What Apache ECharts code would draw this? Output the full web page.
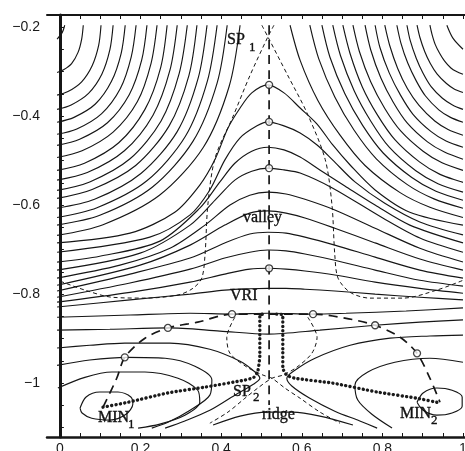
<!DOCTYPE html>
<html><head><meta charset="utf-8">
<script src="https://cdn.jsdelivr.net/npm/echarts@6/dist/echarts.min.js"></script>
<style>html,body{margin:0;padding:0;background:#fff}#c{width:465px;height:451px}</style>
</head><body><div id="c"></div>
<script>
// ---- tick labels / ticks ----
const xTickLabels = [0, 0.2, 0.4, 0.6, 0.8, 1];
const yTickLabels = [-1, -0.8, -0.6, -0.4, -0.2];
const xMinorTicks = [0,0.05,0.1,0.15,0.2,0.25,0.3,0.35,0.4,0.45,0.5,0.55,0.6,0.65,0.7,0.75,0.8,0.85,0.9,0.95,1];
const yMinorTicks = [-1.1,-1.05,-1,-0.95,-0.9,-0.85,-0.8,-0.75,-0.7,-0.65,-0.6,-0.55,-0.5,-0.45,-0.4,-0.35,-0.3,-0.25,-0.2];

// ---- contour lines, upper-left corner family ----
const leftArcs = [
 [[0.012,-0.196],[0.006,-0.212],[-0.007,-0.227]],
 [[0.058,-0.196],[0.054,-0.227],[0.045,-0.257],[0.029,-0.282],[0.009,-0.296],[-0.007,-0.302]],
 [[0.102,-0.196],[0.096,-0.242],[0.080,-0.287],[0.054,-0.323],[0.020,-0.345],[-0.007,-0.353]],
 [[0.132,-0.196],[0.124,-0.251],[0.104,-0.306],[0.071,-0.349],[0.028,-0.375],[-0.007,-0.385]],
 [[0.162,-0.196],[0.152,-0.259],[0.128,-0.322],[0.088,-0.373],[0.035,-0.403],[-0.007,-0.414]],
 [[0.189,-0.196],[0.177,-0.267],[0.150,-0.338],[0.103,-0.395],[0.042,-0.429],[-0.007,-0.441]],
 [[0.216,-0.196],[0.203,-0.274],[0.172,-0.352],[0.118,-0.415],[0.049,-0.452],[-0.007,-0.466]],
 [[0.241,-0.196],[0.226,-0.282],[0.192,-0.368],[0.132,-0.436],[0.055,-0.478],[-0.007,-0.493]],
 [[0.266,-0.196],[0.250,-0.291],[0.211,-0.385],[0.146,-0.460],[0.061,-0.506],[-0.007,-0.522]],
 [[0.291,-0.196],[0.273,-0.297],[0.231,-0.398],[0.160,-0.478],[0.068,-0.527],[-0.007,-0.544]],
 [[0.316,-0.196],[0.296,-0.304],[0.251,-0.411],[0.174,-0.496],[0.074,-0.548],[-0.007,-0.567]],
 [[0.340,-0.196],[0.320,-0.309],[0.271,-0.422],[0.188,-0.511],[0.080,-0.565],[-0.007,-0.585]],
 [[0.365,-0.196],[0.343,-0.315],[0.291,-0.435],[0.201,-0.529],[0.086,-0.587],[-0.007,-0.607]],
 [[0.390,-0.196],[0.366,-0.321],[0.311,-0.446],[0.215,-0.546],[0.092,-0.606],[-0.007,-0.628]],
 [[0.415,-0.196],[0.390,-0.326],[0.330,-0.457],[0.229,-0.560],[0.099,-0.623],[-0.007,-0.645]],
 [[0.447,-0.196],[0.420,-0.333],[0.356,-0.470],[0.247,-0.578],[0.107,-0.644],[-0.007,-0.668]]
];
// ---- contour lines, upper-right corner family ----
const rightArcs = [
 [[0.960,-0.196],[0.975,-0.225],[1.0,-0.250]],
 [[0.918,-0.196],[0.923,-0.216],[0.931,-0.239],[0.942,-0.259],[0.954,-0.276],[0.970,-0.292],[0.984,-0.300],[1.0,-0.306]],
 [[0.886,-0.196],[0.893,-0.223],[0.905,-0.255],[0.919,-0.282],[0.936,-0.306],[0.959,-0.327],[0.978,-0.339],[1.0,-0.347]],
 [[0.861,-0.196],[0.869,-0.230],[0.884,-0.270],[0.901,-0.304],[0.921,-0.334],[0.949,-0.360],[0.974,-0.375],[1.0,-0.385]],
 [[0.836,-0.196],[0.846,-0.236],[0.863,-0.281],[0.884,-0.321],[0.907,-0.355],[0.940,-0.386],[0.969,-0.403],[1.0,-0.414]],
 [[0.806,-0.196],[0.818,-0.241],[0.838,-0.293],[0.862,-0.338],[0.891,-0.376],[0.930,-0.411],[0.963,-0.430],[1.0,-0.443]],
 [[0.782,-0.196],[0.794,-0.246],[0.817,-0.303],[0.845,-0.353],[0.876,-0.396],[0.921,-0.435],[0.958,-0.456],[1.0,-0.470]],
 [[0.757,-0.196],[0.771,-0.251],[0.796,-0.314],[0.827,-0.369],[0.862,-0.416],[0.912,-0.458],[0.954,-0.481],[1.0,-0.497]],
 [[0.727,-0.196],[0.743,-0.255],[0.771,-0.323],[0.806,-0.383],[0.846,-0.434],[0.901,-0.479],[0.948,-0.505],[1.0,-0.522]],
 [[0.702,-0.196],[0.720,-0.260],[0.750,-0.334],[0.788,-0.398],[0.831,-0.453],[0.892,-0.503],[0.943,-0.531],[1.0,-0.549]],
 [[0.677,-0.196],[0.696,-0.264],[0.730,-0.343],[0.771,-0.411],[0.817,-0.470],[0.883,-0.523],[0.938,-0.552],[1.0,-0.571]],
 [[0.650,-0.196],[0.670,-0.268],[0.707,-0.350],[0.751,-0.421],[0.802,-0.483],[0.873,-0.538],[0.933,-0.569],[1.0,-0.589]],
 [[0.620,-0.196],[0.642,-0.271],[0.682,-0.357],[0.730,-0.432],[0.785,-0.496],[0.862,-0.554],[0.928,-0.586],[1.0,-0.607]],
 [[0.571,-0.196],[0.596,-0.275],[0.640,-0.365],[0.695,-0.443],[0.757,-0.511],[0.844,-0.572],[0.918,-0.605],[1.0,-0.628]]
];
// ---- contour lines crossing the valley ----
const valleyContours = [
 [[-0.007,-0.685],[0.174,-0.663],[0.285,-0.616],[0.347,-0.555],[0.385,-0.497],[0.417,-0.427],[0.447,-0.382],[0.476,-0.348],[0.516,-0.330],[0.556,-0.348],[0.596,-0.382],[0.638,-0.418],[0.677,-0.465],[0.720,-0.510],[0.782,-0.566],[0.868,-0.616],[1.0,-0.645]],
 [[-0.007,-0.706],[0.223,-0.672],[0.323,-0.622],[0.372,-0.566],[0.409,-0.499],[0.447,-0.449],[0.489,-0.422],[0.516,-0.413],[0.556,-0.422],[0.596,-0.438],[0.638,-0.465],[0.677,-0.499],[0.732,-0.548],[0.806,-0.596],[0.893,-0.638],[1.0,-0.667]],
 [[-0.007,-0.728],[0.099,-0.715],[0.248,-0.681],[0.347,-0.607],[0.397,-0.548],[0.434,-0.506],[0.476,-0.479],[0.516,-0.470],[0.556,-0.476],[0.596,-0.492],[0.645,-0.521],[0.707,-0.557],[0.782,-0.600],[0.868,-0.645],[1.0,-0.685]],
 [[-0.007,-0.746],[0.199,-0.708],[0.323,-0.645],[0.385,-0.589],[0.434,-0.544],[0.476,-0.524],[0.516,-0.517],[0.556,-0.521],[0.596,-0.528],[0.677,-0.562],[0.801,-0.629],[0.893,-0.674],[1.0,-0.706]],
 [[-0.007,-0.764],[0.149,-0.735],[0.273,-0.697],[0.360,-0.645],[0.422,-0.600],[0.471,-0.578],[0.516,-0.571],[0.561,-0.575],[0.608,-0.587],[0.682,-0.611],[0.782,-0.652],[0.893,-0.697],[1.0,-0.728]],
 [[-0.007,-0.780],[0.199,-0.735],[0.323,-0.690],[0.409,-0.645],[0.471,-0.618],[0.516,-0.613],[0.561,-0.618],[0.608,-0.629],[0.682,-0.652],[0.782,-0.685],[0.893,-0.721],[1.0,-0.746]],
 [[-0.007,-0.793],[0.174,-0.755],[0.323,-0.719],[0.409,-0.685],[0.471,-0.665],[0.516,-0.661],[0.561,-0.663],[0.608,-0.672],[0.682,-0.690],[0.782,-0.717],[0.893,-0.746],[1.0,-0.764]],
 [[-0.007,-0.807],[0.174,-0.775],[0.323,-0.744],[0.409,-0.719],[0.471,-0.706],[0.516,-0.701],[0.561,-0.703],[0.608,-0.710],[0.682,-0.724],[0.782,-0.746],[0.893,-0.769],[1.0,-0.782]],
 [[-0.007,-0.818],[0.174,-0.796],[0.323,-0.773],[0.409,-0.755],[0.471,-0.744],[0.516,-0.742],[0.561,-0.744],[0.608,-0.748],[0.682,-0.757],[0.782,-0.773],[0.893,-0.787],[1.0,-0.798]],
 [[-0.007,-0.829],[0.174,-0.813],[0.323,-0.800],[0.409,-0.791],[0.471,-0.788],[0.516,-0.787],[0.561,-0.787],[0.608,-0.789],[0.682,-0.793],[0.782,-0.800],[0.893,-0.807],[1.0,-0.813]]
];
// ---- contour lines around VRI, SP2 and the two minima ----
const lowerContours = [
 [[-0.007,-0.852],[0.174,-0.847],[0.323,-0.843],[0.427,-0.845],[0.516,-0.843],[0.628,-0.845],[0.710,-0.843],[0.859,-0.838],[1.0,-0.831]],
 [[-0.007,-0.881],[0.124,-0.879],[0.268,-0.876],[0.397,-0.883],[0.516,-0.890],[0.645,-0.881],[0.782,-0.870],[0.893,-0.863],[1.0,-0.858]],
 [[-0.007,-0.921],[0.074,-0.915],[0.161,-0.910],[0.273,-0.910],[0.372,-0.924],[0.447,-0.951],[0.484,-0.975],[0.496,-0.989],[0.481,-1.002],[0.434,-1.027],[0.372,-1.061],[0.310,-1.085],[0.261,-1.101]],
 [[-0.007,-0.960],[0.074,-0.948],[0.166,-0.942],[0.261,-0.944],[0.335,-0.962],[0.377,-0.993],[0.372,-1.027],[0.323,-1.061],[0.268,-1.088],[0.228,-1.101]],
 [[-0.005,-1.011],[0.062,-0.987],[0.129,-0.975],[0.211,-0.975],[0.293,-0.989],[0.342,-1.016],[0.347,-1.043],[0.310,-1.072],[0.248,-1.092],[0.194,-1.101]],
 [[0.050,-1.056],[0.065,-1.031],[0.099,-1.020],[0.144,-1.020],[0.176,-1.031],[0.181,-1.047],[0.164,-1.070],[0.124,-1.083],[0.079,-1.079],[0.055,-1.067],[0.050,-1.056]],
 [[1.0,-0.892],[0.918,-0.894],[0.819,-0.899],[0.720,-0.915],[0.633,-0.944],[0.583,-0.971],[0.563,-0.989],[0.576,-1.007],[0.620,-1.034],[0.682,-1.063],[0.744,-1.085],[0.787,-1.101]],
 [[1.0,-0.953],[0.918,-0.944],[0.831,-0.953],[0.764,-0.975],[0.732,-1.004],[0.739,-1.038],[0.774,-1.070],[0.824,-1.101]],
 [[0.886,-1.043],[0.901,-1.022],[0.935,-1.011],[0.973,-1.016],[0.998,-1.031],[0.998,-1.052],[0.973,-1.067],[0.935,-1.072],[0.901,-1.061],[0.886,-1.043]],
 [[0.380,-1.094],[0.447,-1.074],[0.514,-1.065],[0.578,-1.065],[0.645,-1.074],[0.727,-1.094]]
];
// ---- short-dashed curves ----
const sp1DashLeft = [[0.531,-0.196],[0.516,-0.222],[0.471,-0.310],[0.429,-0.402],[0.385,-0.494],[0.367,-0.600],[0.360,-0.712],[0.352,-0.764],[0.330,-0.787],[0.293,-0.802],[0.211,-0.809],[0.129,-0.807],[0.062,-0.791],[-0.005,-0.769]];
const sp1DashRight = [[0.501,-0.196],[0.516,-0.222],[0.566,-0.310],[0.613,-0.393],[0.658,-0.497],[0.675,-0.600],[0.682,-0.712],[0.690,-0.764],[0.720,-0.796],[0.769,-0.809],[0.851,-0.809],[0.935,-0.791],[1.0,-0.769]];
const sp2DashLeft = [[0.434,-0.852],[0.414,-0.897],[0.422,-0.933],[0.464,-0.964],[0.504,-0.982],[0.526,-0.989],[0.558,-1.011],[0.596,-1.034],[0.645,-1.065],[0.695,-1.090]];
const sp2DashRight = [[0.615,-0.852],[0.638,-0.897],[0.625,-0.933],[0.588,-0.964],[0.553,-0.982],[0.526,-0.989],[0.491,-1.011],[0.459,-1.034],[0.417,-1.065],[0.372,-1.090]];
// ---- long-dashed paths ----
const valleyPath = [[0.519,-0.196],[0.519,-1.049]];
const minPath = [[0.107,-1.054],[0.141,-0.989],[0.161,-0.942],[0.211,-0.899],[0.268,-0.876],[0.342,-0.863],[0.427,-0.845],[0.521,-0.845],[0.628,-0.845],[0.707,-0.854],[0.782,-0.870],[0.844,-0.897],[0.886,-0.933],[0.918,-0.989],[0.943,-1.043]];
// ---- dotted paths ----
const dotLeft = [[0.107,-1.054],[0.169,-1.043],[0.268,-1.022],[0.360,-1.009],[0.459,-0.993],[0.481,-0.987],[0.491,-0.973],[0.496,-0.937],[0.496,-0.892],[0.496,-0.847],[0.511,-0.845]];
const dotRight = [[0.935,-1.043],[0.886,-1.034],[0.787,-1.020],[0.677,-1.000],[0.583,-0.989],[0.563,-0.982],[0.553,-0.966],[0.553,-0.926],[0.553,-0.881],[0.553,-0.847],[0.536,-0.845]];
// ---- open circles ----
const valleyCircles = [[0.519,-0.330],[0.519,-0.413],[0.519,-0.517],[0.519,-0.742]];
const pathCircles = [[0.161,-0.942],[0.268,-0.876],[0.427,-0.845],[0.628,-0.845],[0.782,-0.870],[0.886,-0.933]];

const INK = '#161616';
function contour(d){return {type:'line',data:d,showSymbol:false,smooth:0.3,silent:true,z:2,lineStyle:{color:INK,width:1.15}};}
function dashed(d,w,pat,z){return {type:'line',data:d,showSymbol:false,smooth:0.3,silent:true,z:z,lineStyle:{color:INK,width:w,type:pat}};}
function dotted(d){return {type:'line',data:d,showSymbol:false,smooth:0.2,silent:true,z:4,lineStyle:{color:'#1a1a1a',width:3.4,type:[0.1,4.3],cap:'round'}};}

const series = [];
leftArcs.concat(rightArcs, valleyContours, lowerContours).forEach(d => series.push(contour(d)));
[sp1DashLeft, sp1DashRight, sp2DashLeft, sp2DashRight].forEach(d => series.push(dashed(d,1,[4,3],3)));
series.push(dashed(valleyPath,1.7,[9,6],3));
series.push(dashed(minPath,1.7,[9,6],3));
series.push(dotted(dotLeft));
series.push(dotted(dotRight));
series.push({type:'scatter',data:valleyCircles.concat(pathCircles),symbol:'circle',symbolSize:7,silent:true,z:6,
  itemStyle:{color:'#fff',borderColor:INK,borderWidth:1.3}});

const serif = '"Liberation Serif","DejaVu Serif",serif';
function txt(t,x,y,size){return {type:'text',x:x,y:y,z:10,style:{text:t,font:size+'px '+serif,fill:'#111',stroke:'#111',lineWidth:0.35,textAlign:'left',textVerticalAlign:'middle'}};}

const axisFont = {fontFamily:'"Liberation Sans",Arial,sans-serif',fontSize:14,color:'#1a1a1a'};
const chart = echarts.init(document.getElementById('c'));
chart.setOption({
  animation:false,
  backgroundColor:'#fff',
  grid:{left:47,top:15,right:0,bottom:14,containLabel:false,outerBoundsMode:'none'},
  xAxis:[
    {type:'value',min:-0.032,max:1.005,position:'bottom',
     axisLine:{show:true,lineStyle:{color:INK,width:2.5}},
     axisTick:{show:true,inside:true,length:4,customValues:xMinorTicks,lineStyle:{color:INK,width:1}},
     axisLabel:Object.assign({show:true,margin:5,customValues:xTickLabels,hideOverlap:false},axisFont),
     splitLine:{show:false}},
    {type:'value',min:-0.032,max:1.005,position:'top',
     axisLine:{show:true,lineStyle:{color:INK,width:2}},
     axisTick:{show:true,inside:true,length:4,customValues:xMinorTicks,lineStyle:{color:INK,width:1}},
     axisLabel:{show:false},splitLine:{show:false}}
  ],
  yAxis:[{type:'value',min:-1.121,max:-0.173,
     axisLine:{show:true,lineStyle:{color:INK,width:3}},
     axisTick:{show:true,inside:true,length:4,customValues:yMinorTicks,lineStyle:{color:INK,width:1}},
     axisLabel:Object.assign({show:true,margin:7,customValues:yTickLabels,formatter:v=>String(v).replace('-','\u2212')},axisFont),
     splitLine:{show:false}}],
  series:series,
  graphic:[
    txt('SP',227,40,16), txt('1',249,48,13),
    txt('valley',243,218,16),
    txt('VRI',230,296,16),
    txt('SP',233,392,16), txt('2',253,398,13),
    txt('ridge',262,415,16),
    txt('MIN',98,418,16), txt('1',128,425,13),
    txt('MIN',400,414,16), txt('2',431,421,13)
  ]
});
</script></body></html>
